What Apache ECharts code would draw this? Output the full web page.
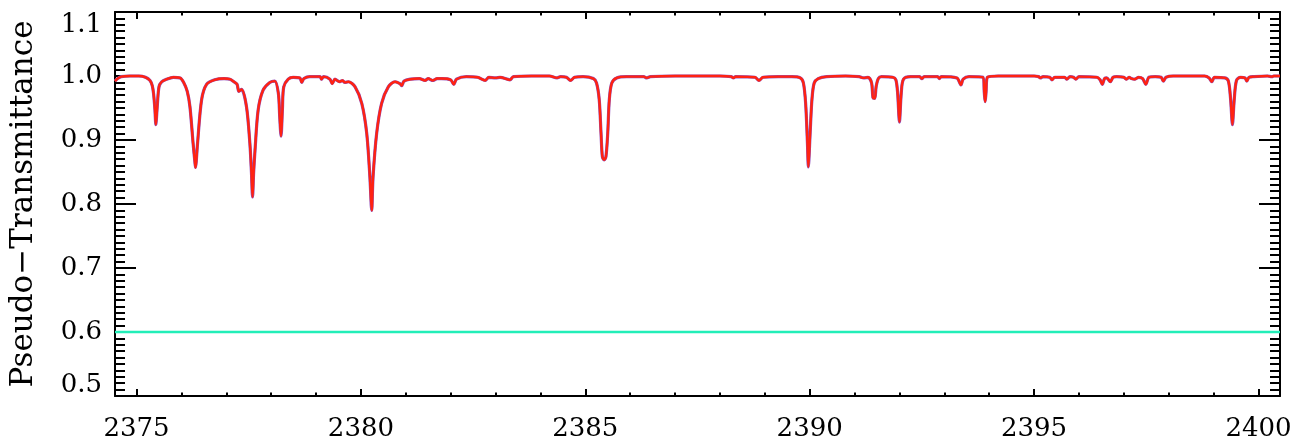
<!DOCTYPE html>
<html>
<head>
<meta charset="utf-8">
<script src="https://cdn.jsdelivr.net/npm/echarts@6/dist/echarts.min.js"></script>
<style>
html,body{margin:0;padding:0;background:#fff;}
#chart{width:1298px;height:443px;}
</style>
</head>
<body>
<div id="chart"></div>
<script>
// ---- data ----
const wavenumber = [
2374.52,2374.58,2374.66,2374.85,2375.05,2375.20,2375.30,2375.35,2375.38,2375.41,2375.43,2375.46,2375.50,2375.56,2375.67,2375.82,2375.97,
2376.05,2376.13,2376.19,2376.26,2376.30,2376.315,2376.33,2376.36,2376.45,2376.56,2376.74,2376.95,
2377.08,2377.17,2377.24,2377.28,2377.34,2377.45,2377.525,2377.56,2377.585,2377.61,2377.64,2377.71,2377.82,2377.97,
2378.08,2378.16,2378.19,2378.22,2378.25,2378.28,2378.38,2378.49,2378.64,2378.68,2378.73,2378.86,
2379.09,2379.12,2379.17,2379.31,2379.36,2379.42,2379.52,2379.59,2379.64,2379.72,2379.87,
2380.02,2380.13,2380.20,2380.24,2380.27,2380.35,2380.46,2380.61,2380.76,2380.87,2380.91,2380.96,
2381.10,2381.30,2381.43,2381.50,2381.60,2381.70,2381.80,
2382.00,2382.07,2382.13,2382.35,2382.60,2382.77,2382.85,
2383.00,2383.10,2383.32,2383.40,2383.80,
2384.20,2384.37,2384.45,2384.58,2384.67,2384.76,2384.95,
2385.18,2385.25,2385.31,2385.35,2385.38,2385.42,2385.46,2385.50,2385.535,2385.59,2385.70,2385.92,
2386.30,2386.37,2386.45,2387.00,2388.00,2388.25,2388.30,2388.35,2388.78,2388.87,2388.96,
2389.30,2389.60,2389.79,2389.86,2389.91,2389.95,2389.97,
2390.01,2390.05,2390.10,2390.19,2390.38,2390.80,
2391.10,2391.20,2391.30,2391.38,2391.41,2391.45,2391.48,2391.53,2391.60,2391.85,2391.92,2391.96,
2392.00,2392.04,2392.09,2392.25,2392.45,2392.50,2392.55,2392.85,2392.89,2392.93,
2393.28,2393.37,2393.42,2393.55,2393.86,2393.89,2393.91,2393.93,2393.96,
2394.20,2395.00,2395.10,2395.14,2395.20,2395.35,2395.40,2395.46,2395.68,2395.73,2395.80,2395.88,2395.93,
2396.00,2396.40,2396.47,2396.52,2396.57,2396.62,2396.70,2396.76,2396.84,
2397.00,2397.06,2397.12,2397.17,2397.24,2397.33,2397.42,2397.49,2397.56,2397.70,2397.83,2397.88,2397.94,
2398.10,2398.80,2398.90,2398.96,2399.02,2399.25,2399.33,2399.38,2399.42,2399.46,2399.51,2399.60,2399.70,2399.74,2399.79,2399.90,
2400.20,2400.30,2400.34,2400.48
];
const transmittance = [
0.992,0.996,0.999,1.000,1.000,0.998,0.993,0.985,0.972,0.947,0.924,0.951,0.983,0.991,0.995,0.998,0.997,
0.990,0.976,0.952,0.895,0.866,0.857,0.866,0.895,0.963,0.987,0.994,0.996,
0.995,0.991,0.987,0.976,0.979,0.952,0.895,0.850,0.811,0.850,0.884,0.947,0.978,0.990,
0.992,0.973,0.937,0.906,0.947,0.983,0.995,0.998,0.997,0.990,0.996,0.999,
0.999,0.995,0.999,0.995,0.988,0.995,0.991,0.993,0.990,0.991,0.983,
0.957,0.910,0.842,0.790,0.842,0.910,0.957,0.983,0.991,0.988,0.985,0.992,
0.995,0.996,0.993,0.996,0.993,0.996,0.996,
0.994,0.987,0.995,0.999,0.998,0.993,0.998,
0.997,0.998,0.994,0.999,1.000,
1.000,0.997,0.999,0.998,0.993,0.998,0.999,
0.996,0.989,0.963,0.911,0.874,0.869,0.874,0.911,0.963,0.989,0.997,0.999,
0.999,0.997,0.999,1.000,1.000,0.999,0.997,0.999,0.998,0.993,0.998,
0.999,0.999,0.997,0.989,0.957,0.895,0.858,
0.911,0.963,0.989,0.996,0.999,1.000,
0.999,0.997,0.998,0.989,0.966,0.965,0.983,0.996,0.999,0.998,0.994,0.973,
0.928,0.973,0.995,0.999,0.999,0.996,0.999,0.999,0.996,0.999,
0.997,0.986,0.995,0.999,0.998,0.975,0.960,0.975,0.998,
1.000,1.000,0.999,0.997,0.999,0.998,0.994,0.998,0.998,0.995,0.999,0.998,0.995,
0.999,0.998,0.994,0.987,0.996,0.997,0.991,0.998,0.999,
0.998,0.995,0.998,0.996,0.995,0.998,0.996,0.987,0.998,0.999,0.998,0.992,0.998,
1.000,1.000,0.997,0.991,0.998,0.997,0.992,0.963,0.924,0.963,0.993,0.998,0.997,0.992,0.998,0.999,
1.000,0.999,1.000,1.000
];
const referenceLevel = 0.6;
const xRange = [2374.52, 2400.48];
const yRange = [0.5, 1.1];
const xMajorTicks = [2375, 2380, 2385, 2390, 2395, 2400];
const xMinorTicks = [2375,2376,2377,2378,2379,2380,2381,2382,2383,2384,2385,2386,2387,2388,2389,2390,2391,2392,2393,2394,2395,2396,2397,2398,2399,2400];
const yTickStep = 0.1;
const yAxisTitle = 'Pseudo\u2212Transmittance';

// ---- chart ----
const FONT = 'DejaVu Serif';
const spectrum = wavenumber.map((w, i) => [w, transmittance[i]]);
const refLine = xRange.map(w => [w, referenceLevel]);

const lineStyleAxis = { color: '#000', width: 2 };
function xAxisDef(pos, ticks, len, withLine, withLabel) {
  return {
    type: 'value', position: pos, min: xRange[0], max: xRange[1],
    axisLine: { show: withLine, onZero: false, lineStyle: lineStyleAxis },
    axisTick: { show: true, inside: true, length: len, customValues: ticks, lineStyle: { color: '#000', width: 2 } },
    axisLabel: withLabel ? {
      show: true, customValues: ticks, margin: 20, color: '#000',
      fontFamily: FONT, fontSize: 26, formatter: v => String(Math.round(v))
    } : { show: false },
    splitLine: { show: false }
  };
}
function yAxisDef(pos, withLabel) {
  const ax = {
    type: 'value', position: pos, min: yRange[0], max: yRange[1], interval: yTickStep,
    axisLine: { show: true, onZero: false, lineStyle: lineStyleAxis },
    axisTick: { show: true, inside: true, length: 21, lineStyle: { color: '#000', width: 2 } },
    minorTick: { show: true, splitNumber: 10, length: 10, lineStyle: { color: '#000', width: 2 } },
    splitLine: { show: false }, minorSplitLine: { show: false },
    axisLabel: { show: false }
  };
  if (withLabel) {
    ax.axisLabel = {
      show: true, margin: 13, color: '#000', fontFamily: FONT, fontSize: 26,
      formatter: v => {
        const s = v.toFixed(1);
        if (Math.abs(v - yRange[1]) < 1e-6) return '{top|' + s + '}';
        if (Math.abs(v - yRange[0]) < 1e-6) return '{bot|' + s + '}';
        return s;
      },
      rich: {
        top: { fontFamily: FONT, fontSize: 26, color: '#000', padding: [26, 0, 0, 0] },
        bot: { fontFamily: FONT, fontSize: 26, color: '#000', padding: [0, 0, 22, 0] }
      }
    };
    ax.name = yAxisTitle;
    ax.nameLocation = 'middle';
    ax.nameRotate = 90;
    ax.nameGap = 76;
    ax.nameTextStyle = { fontFamily: FONT, fontSize: 31, color: '#000' };
  }
  return ax;
}

const chart = echarts.init(document.getElementById('chart'), null, { renderer: 'canvas' });
chart.setOption({
  animation: false,
  backgroundColor: '#fff',
  grid: { left: 115, right: 18, top: 12, bottom: 47, containLabel: false },
  xAxis: [
    xAxisDef('bottom', xMajorTicks, 7, true, true),
    xAxisDef('bottom', xMinorTicks, 3.5, false, false),
    xAxisDef('top', xMajorTicks, 7, true, false),
    xAxisDef('top', xMinorTicks, 3.5, false, false)
  ],
  yAxis: [ yAxisDef('left', true), yAxisDef('right', false) ],
  series: [
    { type: 'line', xAxisIndex: 0, yAxisIndex: 0, data: refLine, showSymbol: false,
      lineStyle: { color: '#22EEB8', width: 2.5 }, z: 2 },
    { type: 'line', xAxisIndex: 0, yAxisIndex: 0, data: spectrum, showSymbol: false, smooth: 0.3,
      lineStyle: { color: '#9050B8', width: 3.2 }, z: 3 },
    { type: 'line', xAxisIndex: 0, yAxisIndex: 0, data: spectrum, showSymbol: false, smooth: 0.3,
      lineStyle: { color: '#FF2212', width: 2.4 }, z: 4 }
  ]
});
</script>
</body>
</html>
